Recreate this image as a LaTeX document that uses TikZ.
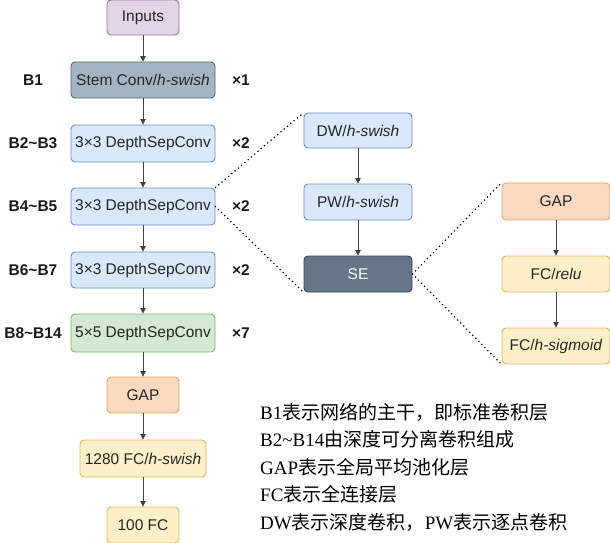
\documentclass[tikz,border=0pt]{standalone}
\usepackage{fontspec}
\setmainfont{Liberation Sans}
\newfontfamily\notefont{Liberation Serif}
\newfontfamily\cjk{Noto Sans CJK SC}
\usetikzlibrary{arrows.meta}

\definecolor{inFill}{HTML}{E1D5E7}
\definecolor{inLine}{HTML}{9673A6}
\definecolor{stemFill}{HTML}{A3B5C3}
\definecolor{stemLine}{HTML}{4E6478}
\definecolor{dsFill}{HTML}{DAE8FC}
\definecolor{dsLine}{HTML}{6C8EBF}
\definecolor{grFill}{HTML}{D5E8D4}
\definecolor{grLine}{HTML}{82B366}
\definecolor{gapFill}{HTML}{FAD9C1}
\definecolor{gapLine}{HTML}{E0A55F}
\definecolor{fcFill}{HTML}{FDEFC8}
\definecolor{fcLine}{HTML}{D9B861}
\definecolor{seFill}{HTML}{647687}
\definecolor{seLine}{HTML}{314354}

\begin{document}
\begin{tikzpicture}[
				x=1pt, y=-1pt,
				font=\fontsize{15.5}{18}\selectfont,
				blk/.style={draw, rounded corners=4pt, line width=0.9pt, inner sep=0pt,
						minimum width=144pt, minimum height=36pt, text=black!85},
				narrow/.style={blk, minimum width=72pt},
				mid/.style={blk, minimum width=108pt},
				lbl/.style={font=\fontsize{15.5}{18}\selectfont\bfseries, text=black!90},
				flow/.style={-{Triangle[length=5.5pt,width=5.5pt]}, line width=0.8pt, black!75},
				zoomline/.style={line width=1.7pt, dash pattern=on 0pt off 4.3pt, line cap=round},
			]
			\path[use as bounding box] (0,0) rectangle (610,543);
			% main column
			\node[narrow, fill=inFill, draw=inLine, minimum height=35pt] (inputs) at (143,17.5) {Inputs};
			\node[blk, fill=stemFill, draw=stemLine] (stem) at (143,80) {Stem Conv/\textit{h-swish}};
			\node[blk, fill=dsFill, draw=dsLine, minimum height=37pt] (b23) at (143,143.5) {3×3 DepthSepConv};
			\node[blk, fill=dsFill, draw=dsLine, minimum height=37pt] (b45) at (143,206.5) {3×3 DepthSepConv};
			\node[blk, fill=dsFill, draw=dsLine] (b67) at (143,270) {3×3 DepthSepConv};
			\node[blk, fill=grFill, draw=grLine, minimum height=38pt] (b814) at (143,333) {5×5 DepthSepConv};
			\node[narrow, fill=gapFill, draw=gapLine] (gap) at (143,395) {GAP};
			\node[blk, fill=fcFill, draw=fcLine, minimum width=126pt, minimum height=37pt] (fcA) at (143,458.5) {1280 FC/\textit{h-swish}};
			\node[narrow, fill=fcFill, draw=fcLine] (fcB) at (143,525) {100 FC};

			\node[lbl] (nB1) at (33,80) {B1};
			\node[lbl] (nB23) at (33,143.5) {B2\textasciitilde B3};
			\node[lbl] (nB45) at (33,206.5) {B4\textasciitilde B5};
			\node[lbl] (nB67) at (33,270) {B6\textasciitilde B7};
			\node[lbl] (nB814) at (33,333) {B8\textasciitilde B14};

			\node[lbl] (r1) at (241,80) {×1};
			\node[lbl] (r23) at (241,143.5) {×2};
			\node[lbl] (r45) at (241,206.5) {×2};
			\node[lbl] (r67) at (241,270) {×2};
			\node[lbl] (r814) at (241,333) {×7};

			% depthwise separable block
			\node[mid, fill=dsFill, draw=dsLine, minimum height=35pt] (dw) at (358,130.5) {DW/\textit{h-swish}};
			\node[mid, fill=dsFill, draw=dsLine] (pw) at (358,202) {PW/\textit{h-swish}};
			\node[mid, fill=seFill, draw=seLine, text=white] (se) at (358,274) {SE};

			% squeeze and excitation
			\node[mid, fill=gapFill, draw=gapLine, minimum height=37pt] (segap) at (556,201.5) {GAP};
			\node[mid, fill=fcFill, draw=fcLine] (serelu) at (556,274) {FC/\textit{relu}};
			\node[mid, fill=fcFill, draw=fcLine] (sesig) at (556,346) {FC/\textit{h-sigmoid}};

			\draw[flow] (inputs) -- (stem);
			\draw[flow] (stem) -- (b23);
			\draw[flow] (b23) -- (b45);
			\draw[flow] (b45) -- (b67);
			\draw[flow] (b67) -- (b814);
			\draw[flow] (b814) -- (gap);
			\draw[flow] (gap) -- (fcA);
			\draw[flow] (fcA) -- (fcB);
			\draw[flow] (dw) -- (pw);
			\draw[flow] (pw) -- (se);
			\draw[flow] (segap) -- (serelu);
			\draw[flow] (serelu) -- (sesig);

			\draw[zoomline] (b45.north east) -- (dw.north west);
			\draw[zoomline] (b45.east) -- (se.south west);
			\draw[zoomline] (se.east) -- (segap.north west);
			\draw[zoomline] (se.east) -- (sesig.south west);

			% notes
			\node[anchor=base west, inner sep=0pt, font=\fontsize{19}{22}\selectfont] (note1) at (260,419) {\notefont B1\cjk 表示网络的主干，即标准卷积层};
			\node[anchor=base west, inner sep=0pt, font=\fontsize{19}{22}\selectfont] (note2) at (260,446.5) {\notefont B2\textasciitilde B14\cjk 由深度可分离卷积组成};
			\node[anchor=base west, inner sep=0pt, font=\fontsize{19}{22}\selectfont] (note3) at (260,474) {\notefont GAP\cjk 表示全局平均池化层};
			\node[anchor=base west, inner sep=0pt, font=\fontsize{19}{22}\selectfont] (note4) at (260,501.5) {\notefont FC\cjk 表示全连接层};
			\node[anchor=base west, inner sep=0pt, font=\fontsize{19}{22}\selectfont] (note5) at (260,529) {\notefont DW\cjk 表示深度卷积，\notefont PW\cjk 表示逐点卷积};
		\end{tikzpicture}
\end{document}
